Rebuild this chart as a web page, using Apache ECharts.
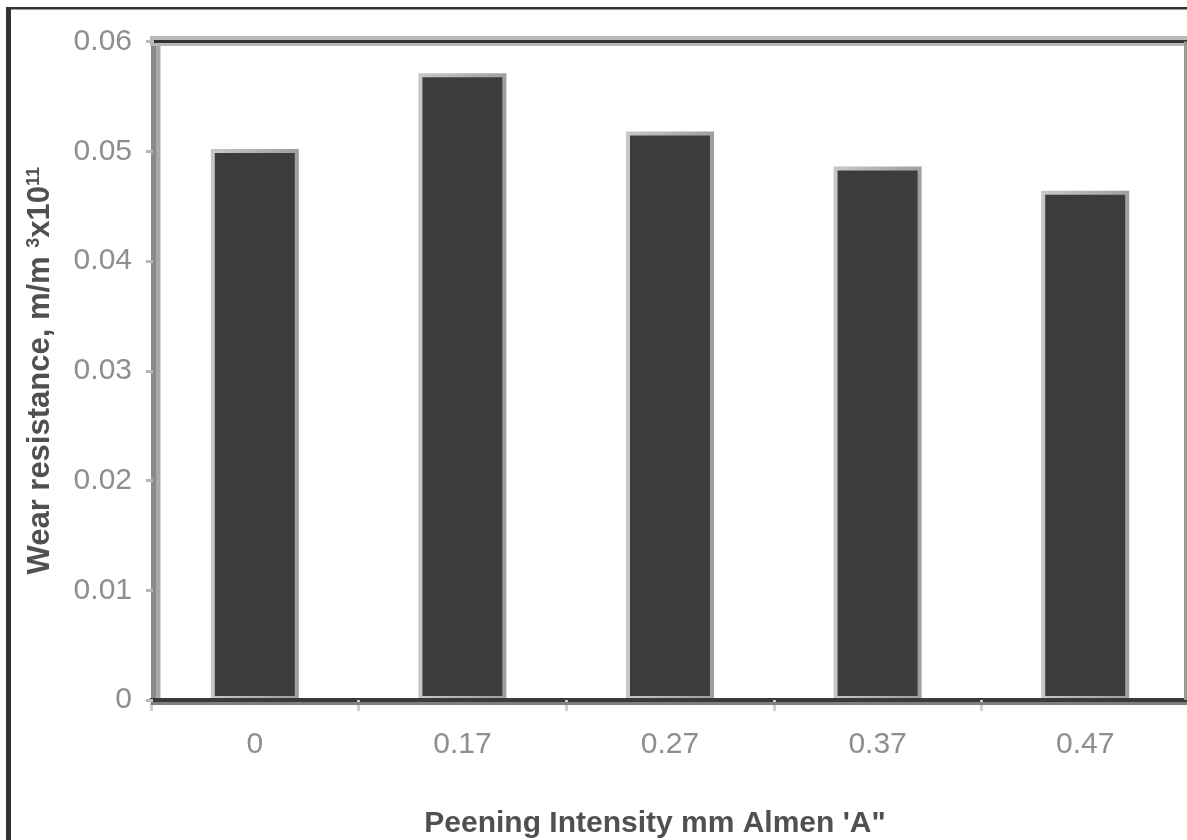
<!DOCTYPE html>
<html><head><meta charset="utf-8">
<script src="https://cdn.jsdelivr.net/npm/echarts@6/dist/echarts.min.js"></script>
<style>html,body{margin:0;padding:0;background:#fff}#c{width:1187px;height:840px}</style>
</head><body><div id="c"></div>
<script>
const categories = ['0', '0.17', '0.27', '0.37', '0.47'];
const wearResistance = [0.0502, 0.0571, 0.0518, 0.0486, 0.0464];
const yTickLabels = ['0', '0.01', '0.02', '0.03', '0.04', '0.05', '0.06'];

const chart = echarts.init(document.getElementById('c'));
const FONT = '"Liberation Sans", Arial, sans-serif';
const hidden = { show: false };
const nameColor = '#505050';

chart.setOption({
  backgroundColor: '#fff',
  animation: false,
  grid: { left: 151, right: -2, top: 41.5, bottom: 140, containLabel: false, outerBoundsMode: 'none' },
  xAxis: {
    type: 'category', data: categories, position: 'bottom', z: 3,
    axisLine: { lineStyle: { color: '#3a3a3a', width: 4 } },
    axisTick: { show: true, length: 11, lineStyle: { color: '#cfcfcf', width: 3 } },
    axisLabel: { color: '#8e8e8e', fontSize: 30, fontFamily: FONT, margin: 30 },
    splitLine: hidden,
    name: "Peening Intensity mm Almen 'A\"",
    nameLocation: 'middle', nameGap: 109,
    nameTextStyle: { color: nameColor, fontSize: 30, fontWeight: 'bold', fontFamily: FONT, padding: [0, 30, 0, 0] }
  },
  yAxis: {
    type: 'value', min: 0, max: 0.06, interval: 0.01, position: 'left', offset: -2, z: 3,
    axisLine: { show: true, lineStyle: { color: '#8a8a8a', width: 5 } },
    axisTick: { show: true, length: 7, lineStyle: { color: '#b8b8b8', width: 3 } },
    splitLine: hidden,
    axisLabel: { color: '#8e8e8e', fontSize: 30, fontFamily: FONT, margin: 21,
      formatter: v => yTickLabels[Math.round(v / 0.01)] },
    name: '{n|Wear resistance, m/m }{s|3}{n|x10}{s|11}',
    nameLocation: 'middle', nameGap: 97, nameRotate: 90,
    nameTextStyle: {
      color: nameColor, fontSize: 30, fontWeight: 'bold', fontFamily: FONT,
      rich: {
        n: { color: nameColor, fontSize: 31, fontWeight: 'bold', fontFamily: FONT },
        s: { color: nameColor, fontSize: 18, fontWeight: 'bold', fontFamily: FONT, verticalAlign: 'top' }
      }
    }
  },
  series: [{
    type: 'bar', data: wearResistance, barWidth: 88,
    itemStyle: {
      color: '#3c3c3e', borderWidth: 4,
      borderColor: new echarts.graphic.LinearGradient(0, 0, 1, 0, [
        { offset: 0, color: '#c8c8c8' }, { offset: 1, color: '#9c9ea0' }
      ])
    }
  }]
});

// Frame decorations around the plot area, placed from the grid rectangle computed by ECharts
const r = chart.getModel().getComponent('grid', 0).coordinateSystem.getRect();
chart.setOption({
  graphic: [
    { type: 'rect', z: 10, shape: { x: 6, y: 7, width: 5, height: 833 }, style: { fill: '#333' } },
    { type: 'rect', z: 10, shape: { x: 6, y: 7, width: 1181, height: 2.5 }, style: { fill: '#333' } },
    { type: 'rect', z: 5, shape: { x: r.x - 1, y: r.y - 5.5, width: r.width + 2, height: 10 }, style: { fill: '#b8b8b8' } },
    { type: 'rect', z: 6, shape: { x: r.x + 3, y: r.y - 1.5, width: r.width, height: 3 }, style: { fill: '#333333' } },
    { type: 'rect', z: 6, shape: { x: r.x, y: r.y + r.height + 2, width: r.width, height: 3 }, style: { fill: '#7e7e7e' } },
    { type: 'rect', z: 1, shape: { x: r.x + 4.5, y: r.y, width: 5, height: r.height }, style: { fill: '#a8a8a8' } },
    { type: 'rect', z: 6, shape: { x: r.x + r.width - 5, y: r.y, width: 3, height: r.height }, style: { fill: '#999999' } }
  ]
});
</script></body></html>
